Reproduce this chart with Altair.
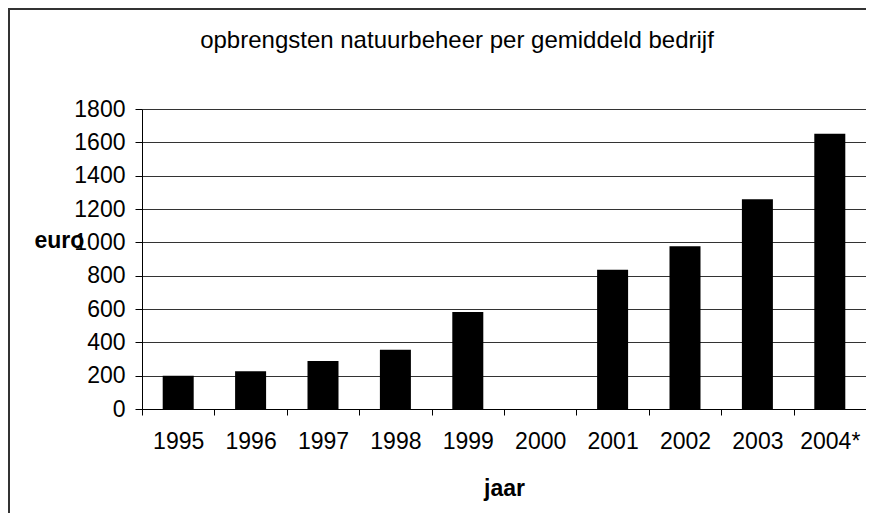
import altair as alt
import pandas as pd

years = ["1995", "1996", "1997", "1998", "1999", "2000", "2001", "2002", "2003", "2004*"]
values = [200, 226, 288, 356, 582, 0, 836, 976, 1258, 1652]
y_ticks = [0, 200, 400, 600, 800, 1000, 1200, 1400, 1600, 1800]
title_text = "opbrengsten natuurbeheer per gemiddeld bedrijf"

df = pd.DataFrame({"jaar": years, "euro": values})

FONT = "Liberation Sans"

bars = alt.Chart(df).mark_bar(color="black", size=31).encode(
    x=alt.X("jaar:N", sort=years,
            scale=alt.Scale(paddingInner=0, paddingOuter=0),
            axis=alt.Axis(title="jaar", labelAngle=0, tickBand="extent",
                          tickSize=6, tickColor="black", domainColor="black",
                          labelFont=FONT, labelFontSize=23, labelColor="black",
                          labelBaseline="middle", labelPadding=26,
                          titleFont=FONT, titleFontSize=23, titleFontWeight="bold",
                          titleColor="black", titleY=79, titleBaseline="middle",
                          grid=False)),
    y=alt.Y("euro:Q",
            scale=alt.Scale(domain=[0, 1800], nice=False),
            axis=alt.Axis(title="euro", values=y_ticks, format="d", tickSize=7,
                          tickColor="black", domainColor="black",
                          labelFont=FONT, labelFontSize=23, labelColor="black",
                          labelPadding=10,
                          titleFont=FONT, titleFontSize=23, titleFontWeight="bold",
                          titleColor="black", titleAngle=0, titleAlign="left",
                          titleBaseline="middle", titleX=-108, titleY=131,
                          grid=True, gridColor="#333333", gridWidth=1)),
)

deco = alt.Data(values=[{}])

top_line = alt.Chart(deco).mark_rule(color="#333333", strokeWidth=2).encode(
    x=alt.value(-134), x2=alt.value(724), y=alt.value(-100),
)
left_line = alt.Chart(deco).mark_rule(color="#333333", strokeWidth=2).encode(
    x=alt.value(-133), y=alt.value(-101), y2=alt.value(404),
)
title = alt.Chart(deco).mark_text(
    text=title_text, font=FONT, fontSize=24, color="black",
    align="center", baseline="alphabetic",
).encode(x=alt.value(315), y=alt.value(-61))

chart = alt.layer(bars, top_line, left_line, title).properties(
    width=724, height=300,
    autosize=alt.AutoSizeParams(type="none"),
    padding={"left": 134, "top": 101, "right": 0, "bottom": 104},
).configure_view(stroke="#808080", strokeWidth=1).configure(background="white")

chart.save("out.html", embed_options={"renderer": "svg", "actions": False})
